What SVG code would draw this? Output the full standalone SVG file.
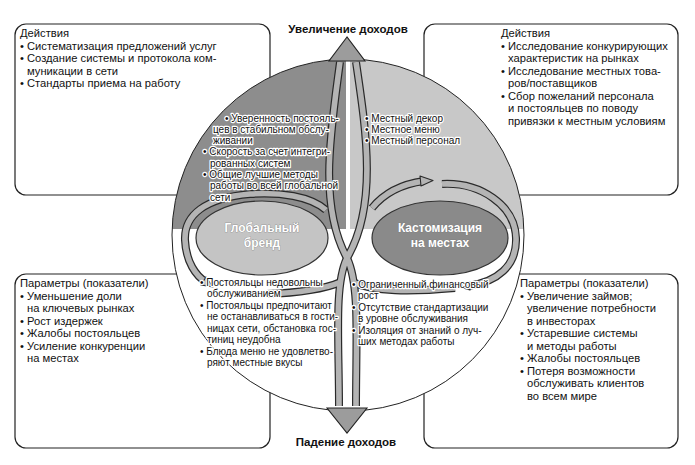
<svg xmlns="http://www.w3.org/2000/svg" xmlns:xlink="http://www.w3.org/1999/xlink" width="695" height="465" viewBox="0 0 695 465">
<style>
.box{fill:#fff;stroke:#222;stroke-width:1.2}
.t{font-family:"Liberation Sans",Arial,sans-serif;font-size:11.2px;fill:#111}
.q{font-family:"Liberation Sans",Arial,sans-serif;font-size:10px;fill:#111;stroke:#fff;stroke-width:2.4;paint-order:stroke;stroke-linejoin:round}
.lbl{font-family:"Liberation Sans",Arial,sans-serif;font-size:11.5px;font-weight:bold;fill:#111;text-anchor:middle}
.el{font-family:"Liberation Sans",Arial,sans-serif;font-size:12px;font-weight:bold;fill:#fff;text-anchor:middle;stroke:#777;stroke-width:0.6;paint-order:stroke}
.bo{fill:none;stroke:#2a2a2a;stroke-width:8}
.bi{fill:none;stroke:#b4b4b4;stroke-width:5.6}
.head{fill:#b4b4b4;stroke:#2a2a2a;stroke-width:1.1;stroke-linejoin:round}
.arr{fill:#9c9c9c;stroke:#222;stroke-width:1.1}
</style>
<defs>
<clipPath id="cc"><circle cx="348" cy="235" r="176"/></clipPath>
<path id="b1" d="M340 62 C331 130 318 205 347 258 C360 285 356 340 356 406"/>
<path id="b2" d="M356 62 C366 130 378 205 347 258 C334 285 339 340 339 406"/>
<path id="lobeL" d="M326 210 C310 196 280 192 250 194 C205 198 184 215 185 240 C186 262 196 276 206 282"/>
<path id="tailL" d="M266 294 C295 293 322 290 341 282"/>
<path id="lobeRt" d="M372 208 C385 192 402 184 424 181"/>
<path id="lobeR" d="M442 184 C480 182 515 205 516 238 C517 266 497 282 468 286"/>
<path id="tailR" d="M352 282 C375 292 410 292 455 288"/>
</defs>

<g id="box-tl"><rect class="box" x="15" y="24" width="255" height="171" rx="11"/>
<text class="t"><tspan x="20" y="37">Действия</tspan><tspan x="20" y="49.5">• Систематизация предложений услуг</tspan><tspan x="20" y="62">• Создание системы и протокола ком-</tspan><tspan x="27" y="74.5">муникации в сети</tspan><tspan x="20" y="87">• Стандарты приема на работу</tspan></text></g>

<g id="box-tr"><rect class="box" x="424" y="24" width="254" height="171" rx="11"/>
<text class="t"><tspan x="501" y="37">Действия</tspan><tspan x="501" y="49.5">• Исследование конкурирующих</tspan><tspan x="508" y="62">характеристик на рынках</tspan><tspan x="501" y="74.5">• Исследование местных това-</tspan><tspan x="508" y="87">ров/поставщиков</tspan><tspan x="501" y="99.5">• Сбор пожеланий персонала</tspan><tspan x="508" y="112">и постояльцев по поводу</tspan><tspan x="508" y="124.5">привязки к местным условиям</tspan></text></g>

<g id="box-bl"><rect class="box" x="15" y="274" width="255" height="174" rx="11"/>
<text class="t"><tspan x="20" y="287">Параметры (показатели)</tspan><tspan x="20" y="299.5">• Уменьшение доли</tspan><tspan x="27" y="312">на ключевых рынках</tspan><tspan x="20" y="324.5">• Рост издержек</tspan><tspan x="20" y="337">• Жалобы постояльцев</tspan><tspan x="20" y="349.5">• Усиление конкуренции</tspan><tspan x="27" y="362">на местах</tspan></text></g>

<g id="box-br"><rect class="box" x="424" y="274" width="254" height="174" rx="11"/>
<text class="t"><tspan x="520" y="287">Параметры (показатели)</tspan><tspan x="520" y="299.5">• Увеличение займов;</tspan><tspan x="527" y="312">увеличение потребности</tspan><tspan x="527" y="324.5">в инвесторах</tspan><tspan x="520" y="337">• Устаревшие системы</tspan><tspan x="527" y="349.5">и методы работы</tspan><tspan x="520" y="362">• Жалобы постояльцев</tspan><tspan x="520" y="374.5">• Потеря возможности</tspan><tspan x="527" y="387">обслуживать клиентов</tspan><tspan x="527" y="399.5">во всем мире</tspan></text></g>

<g id="circle">
<circle cx="348" cy="235" r="176" fill="#fff"/>
<g clip-path="url(#cc)">
<rect x="165" y="50" width="181" height="179" fill="#8d8d8d"/>
<rect x="350" y="50" width="185" height="179" fill="#c8c8c8"/>
</g>
<circle cx="348" cy="235" r="176" fill="none" stroke="#222" stroke-width="1"/>
</g>

<g id="connectors">
<use xlink:href="#b1" class="bo"/><use xlink:href="#b2" class="bo"/>
<use xlink:href="#lobeL" class="bo"/><use xlink:href="#tailL" class="bo"/>
<use xlink:href="#lobeRt" class="bo"/><use xlink:href="#lobeR" class="bo"/><use xlink:href="#tailR" class="bo"/>
<use xlink:href="#b1" class="bi"/><use xlink:href="#b2" class="bi"/>
<use xlink:href="#lobeL" class="bi"/><use xlink:href="#tailL" class="bi"/>
<use xlink:href="#lobeRt" class="bi"/><use xlink:href="#lobeR" class="bi"/><use xlink:href="#tailR" class="bi"/>
<polygon class="head" points="420,176 433,180.5 421,186"/>
<polygon class="head" points="201,285 213,287 206,277"/>
<polygon class="head" points="470,282 458,286.5 470,290"/>
<polygon class="arr" points="347,37 329,61 365,61"/>
<polygon class="arr" points="327,408 367,408 347,433"/>
</g>

<g id="node-global"><ellipse cx="262" cy="238" rx="66" ry="37" fill="#c4c4c4" stroke="#333" stroke-width="1.2"/>
<text class="el"><tspan x="262" y="232">Глобальный</tspan><tspan x="262" y="247">бренд</tspan></text></g>

<g id="node-local"><ellipse cx="440" cy="238" rx="68" ry="37" fill="#8a8a8a" stroke="#333" stroke-width="1.2"/>
<text class="el"><tspan x="440" y="232">Кастомизация</tspan><tspan x="440" y="247">на местах</tspan></text></g>

<g id="text-tl"><text class="q"><tspan x="225" y="121.5">• Уверенность постояль-</tspan><tspan x="213" y="132.8">цев в стабильном обслу-</tspan><tspan x="213" y="144.1">живании</tspan><tspan x="203" y="155.4">• Скорость за счет интегри-</tspan><tspan x="210" y="166.7">рованных систем</tspan><tspan x="203" y="178">• Общие лучшие методы</tspan><tspan x="210" y="189.3">работы во всей глобальной</tspan><tspan x="210" y="200.6">сети</tspan></text></g>

<g id="text-tr"><text class="q"><tspan x="365" y="121.5">• Местный декор</tspan><tspan x="365" y="132.5">• Местное меню</tspan><tspan x="365" y="143.5">• Местный персонал</tspan></text></g>

<g id="text-bl"><text class="q"><tspan x="200" y="285.5">• Постояльцы недовольны</tspan><tspan x="207" y="297">обслуживанием</tspan><tspan x="200" y="308.5">• Постояльцы предпочитают</tspan><tspan x="207" y="320">не останавливаться в гости-</tspan><tspan x="207" y="331.5">ницах сети, обстановка гос-</tspan><tspan x="207" y="343">тиниц неудобна</tspan><tspan x="200" y="354.5">• Блюда меню не удовлетво-</tspan><tspan x="207" y="366">ряют местные вкусы</tspan></text></g>

<g id="text-br"><text class="q"><tspan x="352" y="287.5">• Ограниченный финансовый</tspan><tspan x="358" y="299">рост</tspan><tspan x="352" y="310.5">• Отсутствие стандартизации</tspan><tspan x="358" y="322">в уровне обслуживания</tspan><tspan x="352" y="333.5">• Изоляция от знаний о луч-</tspan><tspan x="358" y="345">ших методах работы</tspan></text></g>

<g id="labels">
<text class="lbl" x="348" y="33">Увеличение доходов</text>
<text class="lbl" x="346" y="446">Падение доходов</text>
</g>
</svg>
